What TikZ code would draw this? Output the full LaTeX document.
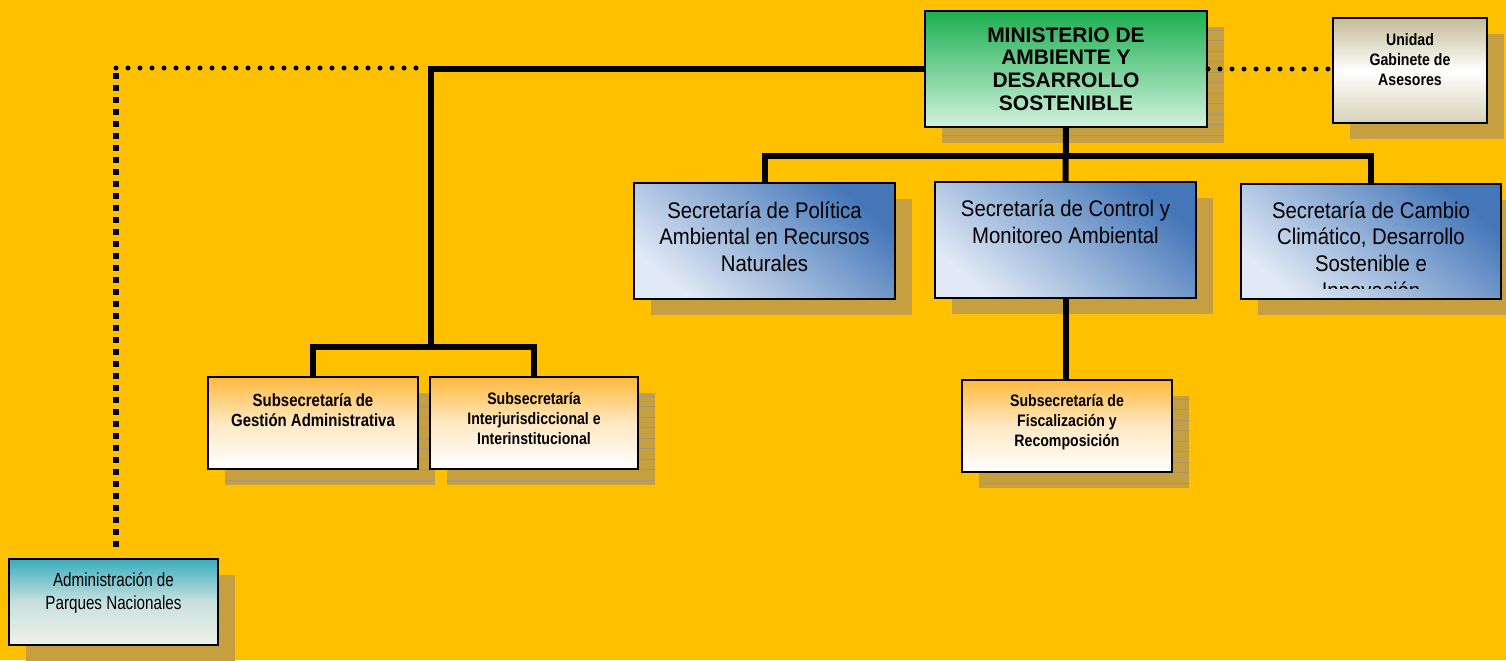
\documentclass[tikz,border=0pt]{standalone}
\usepackage{fontspec}
\setmainfont{Liberation Sans}
\newfontfamily\nf[FakeStretch=0.9]{Liberation Sans}
\newfontfamily\bnf[FakeStretch=0.85]{Liberation Sans Bold}
\newfontfamily\af[FakeStretch=0.8]{Liberation Sans}
\usetikzlibrary{fit}
\definecolor{bgc}{RGB}{255,192,0}
\definecolor{shc}{RGB}{198,160,64}
\definecolor{stc}{RGB}{165,150,118}
\definecolor{grT}{RGB}{28,175,80}
\definecolor{grB}{RGB}{210,242,222}
\definecolor{blT}{RGB}{68,118,184}
\definecolor{blB}{RGB}{224,233,245}
\definecolor{orT}{RGB}{255,185,60}
\definecolor{orM}{RGB}{255,232,195}
\definecolor{tnT}{RGB}{196,188,150}
\definecolor{tnB}{RGB}{215,210,185}
\definecolor{tlT}{RGB}{58,172,190}
\definecolor{tlM}{RGB}{200,225,222}
\definecolor{tlB}{RGB}{240,240,232}
\tikzset{
  boxb/.style={draw=black, line width=1pt, inner sep=0pt, rectangle},
  minis/.style={boxb, top color=grT, bottom color=grB},
  secb/.style={boxb, top color=blT, bottom color=blB, shading angle=-40},
  subb/.style={boxb, top color=orT, bottom color=white, middle color=orM},
  unib/.style={boxb, top color=tnT, bottom color=tnB, middle color=white},
  admb/.style={boxb, top color=tlT, bottom color=tlB, middle color=tlM},
  conn/.style={line width=3pt, black},
  rdots/.style={line width=2.5pt, black, line cap=round, dash pattern=on 0pt off 6pt},
  sqdots/.style={line width=3pt, black, dash pattern=on 3pt off 3pt},
  mtext/.style={align=center, inner sep=0pt, font=\bfseries\fontsize{10.5}{11.35}\selectfont},
  stext/.style={align=center, inner sep=0pt, font=\nf\fontsize{11.3}{13.35}\selectfont},
  btext/.style={align=center, inner sep=0pt, font=\bnf\fontsize{8.8}{10}\selectfont},
  ctext/.style={align=center, inner sep=0pt, font=\bnf\fontsize{8.3}{10}\selectfont},
  atext/.style={align=center, inner sep=0pt, font=\af\fontsize{9.5}{11.5}\selectfont},
}
% style, name, x1, y1, x2, y2
\newcommand\obox[6]{%
  \fill[shc] (#3+17,#4+16) rectangle (#5+17,#6+16);
  \node[fit={(#3,#4) (#5,#6)}, #1] (#2) {};
}
\newcommand\stripebox[6]{%
  \fill[shc] (#3+17,#4+16) rectangle (#5+17,#6+16);
  \begin{scope}
    \clip (#3+17,#4+16) rectangle (#5+17,#6+16);
    \foreach \k in {0,...,12} {\draw[stc, line width=0.5pt] (#3+17,#4+19+\k*10.5) -- (#5+17,#4+19+\k*10.5);}
  \end{scope}
  \node[fit={(#3,#4) (#5,#6)}, #1] (#2) {};
}
\begin{document}
\begin{tikzpicture}[x=0.5pt,y=-0.5pt]
\useasboundingbox (0,0) rectangle (1506,660);
\fill[bgc] (0,0) rectangle (1506,660);

% boxes
\stripebox{minis}{m}{925}{11}{1207}{127}
\obox{unib}{u}{1333}{18}{1487}{123}
\obox{secb}{sp}{634}{183}{895}{299}
\obox{secb}{sc}{935}{182}{1196}{298}
\obox{secb}{scc}{1241}{184}{1501}{299}
\stripebox{subb}{g}{208}{377}{418}{469}
\stripebox{subb}{ij}{430}{377}{638}{469}
\stripebox{subb}{fis}{962}{380}{1172}{472}
\obox{admb}{adm}{9}{559}{218}{645}

% texts
\node[mtext] (tm) at (1066,69) {MINISTERIO DE\\AMBIENTE Y\\DESARROLLO\\SOSTENIBLE};
\node[ctext] (tu) at (1410,60) {Unidad\\Gabinete de\\Asesores};
\node[stext] (tsp) at (764.5,236.5) {Secretaría de Política\\Ambiental en Recursos\\Naturales};
\node[stext] (tsc) at (1065.5,222) {Secretaría de Control y\\Monitoreo Ambiental};
\begin{scope}
  \clip (1241,184) rectangle (1501,288);
  \node[stext] (tscc) at (1371,250) {Secretaría de Cambio\\Climático, Desarrollo\\Sostenible e\\Innovación};
\end{scope}
\node[btext] (tg) at (313,410.5) {Subsecretaría de\\Gestión Administrativa};
\node[ctext] (tij) at (534,418) {Subsecretaría\\Interjurisdiccional e\\Interinstitucional};
\node[ctext] (tfis) at (1067,422) {Subsecretaría de\\Fiscalización y\\Recomposición};
\node[atext] (tadm) at (113.5,592.5) {Administración de\\Parques Nacionales};

% connectors
\coordinate (bus1) at (1066,156);
\coordinate (bus2) at (431,347);
\draw[conn] (m.south) -- (sc.north);
\draw[conn] (sp.north) |- (bus1) -| (scc.north);
\draw[conn] (sc.south) -- (sc.south |- fis.north);
\draw[conn] (m.west) -| (bus2);
\draw[conn] (g.north) |- (bus2) -| (ij.north);

% dotted links
\coordinate (dcorner) at (116,68);
\coordinate (dstart) at (418,68);
\coordinate (dvtop) at (116,73);
\coordinate (dvend) at (116,550);
\draw[rdots] (dcorner) -- (dstart);
\draw[sqdots] (dvtop) -- (dvend);
\draw[rdots] (m.east) -- (m.east -| u.west);
\end{tikzpicture}
\end{document}
